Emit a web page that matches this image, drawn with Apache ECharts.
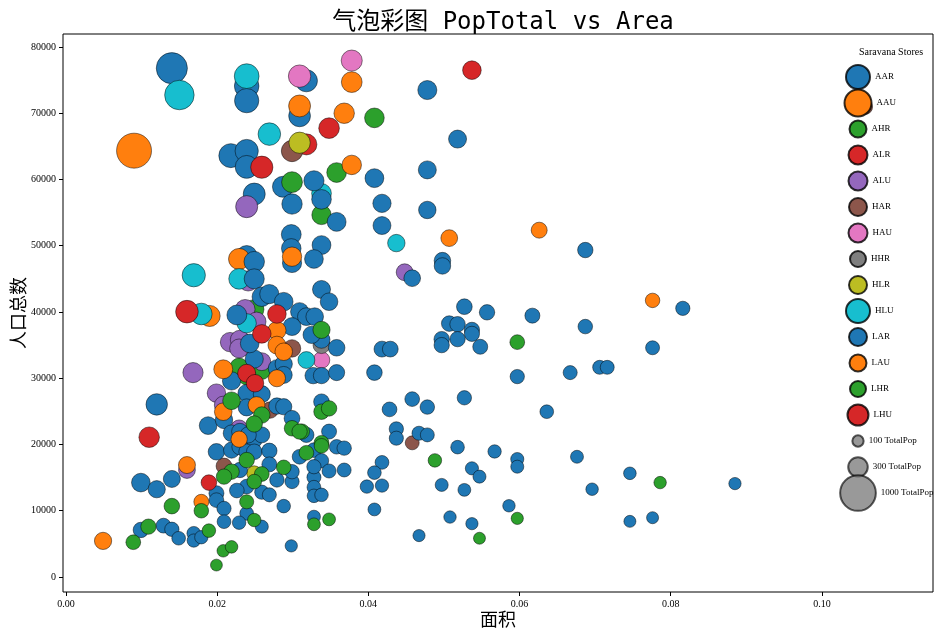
<!DOCTYPE html>
<html>
<head>
<meta charset="utf-8">
<script src="https://cdn.jsdelivr.net/npm/echarts@6/dist/echarts.min.js"></script>
<style>html,body{margin:0;padding:0;background:#fff;}#chart{width:940px;height:637px;}</style>
</head>
<body>
<div id="chart"></div>
<script>
// ---- data (x = 面积, y = 人口总数) ----
const xTicks = [0, 0.02, 0.04, 0.06, 0.08, 0.10];
const yTicks = [0, 10000, 20000, 30000, 40000, 50000, 60000, 70000, 80000];

const AAR = [[0.0140,76800],[0.0239,74100],[0.0239,71900],[0.0318,74900],[0.0309,69600],[0.0218,63600],[0.0239,64300],[0.0239,61900],[0.0287,58900],[0.0249,57800],[0.0239,48450],[0.0120,26050]];
const AAU = [[0.0090,64350],[0.0378,74700],[0.0309,71100],[0.0368,70000],[0.0229,48000],[0.0190,39400]];
const AHR = [[0.0408,69300],[0.0299,59600],[0.0358,61050],[0.0338,54650],[0.0249,40400],[0.0229,31650],[0.0259,31150],[0.0239,30350]];
const ALR = [[0.0537,76500],[0.0348,67750],[0.0318,65300],[0.0259,61850]];
const ALU = [[0.0239,55900],[0.0241,44700],[0.0237,40400],[0.0252,38550],[0.0448,46000],[0.0217,35450],[0.0230,35800],[0.0229,34500],[0.0259,32500],[0.0168,30850],[0.0199,27750],[0.0208,25950],[0.0229,22450],[0.0160,16150]];
const HAR = [[0.1057,70950],[0.0299,64300],[0.0299,34500],[0.0270,25200],[0.0458,20250],[0.0209,16750]];
const HAU = [[0.0309,75600],[0.0378,77950],[0.0338,32750]];
const HHR = [[0.0338,35000]];
const HLR = [[0.0309,65550],[0.0249,15650]];
const HLU = [[0.0150,72750],[0.0239,75600],[0.0269,66850],[0.0338,57900],[0.0229,45000],[0.0169,45550],[0.0179,39700],[0.0239,38300],[0.0437,50400],[0.0318,32750]];
const LAR = [[0.0299,56300],[0.0328,59800],[0.0338,57000],[0.0358,53600],[0.0298,51700],[0.0298,49600],[0.0299,47400],[0.0338,50100],[0.0328,48000],[0.0249,47600],[0.0249,45000],[0.0338,43400],[0.0348,41550],[0.0259,42300],[0.0269,42700],[0.0288,41550],[0.0226,39550],[0.0309,40050],[0.0318,39300],[0.0329,39300],
[0.0478,73500],[0.0518,66100],[0.0478,61450],[0.0408,60200],[0.0418,56400],[0.0478,55400],[0.0418,53050],[0.0498,47750],[0.0498,46950],[0.0458,45100],[0.0687,49350],[0.0816,40550],[0.0527,40800],[0.0557,39950],[0.0617,39450],
[0.0507,38250],[0.0518,38150],[0.0537,37300],[0.0537,36700],[0.0687,37800],[0.0497,35900],[0.0497,35000],[0.0518,35900],[0.0548,34750],[0.0776,34600],[0.0418,34400],[0.0429,34400],[0.0358,34600],[0.0338,35800],[0.0327,30400],[0.0338,30400],[0.0358,30850],[0.0408,30850],[0.0597,30250],[0.0667,30850],[0.0706,31650],[0.0716,31650],
[0.0527,27050],[0.0458,26850],[0.0428,25300],[0.0478,25650],[0.0636,24950],[0.0338,26450],[0.0437,22350],[0.0437,20950],[0.0467,21700],[0.0478,21450],[0.0518,19600],[0.0567,18950],[0.0597,17800],[0.0597,16650],[0.0676,18150],
[0.0348,21950],[0.0318,21450],[0.0328,19150],[0.0358,19650],[0.0368,19450],[0.0338,17550],[0.0348,16000],[0.0368,16150],[0.0328,15050],[0.0328,13550],[0.0328,12250],[0.0338,12400],[0.0328,9100],
[0.0418,17300],[0.0408,15750],[0.0398,13650],[0.0418,13800],[0.0408,10200],[0.0497,13900],[0.0527,13150],[0.0537,16400],[0.0547,15150],[0.0586,10750],[0.0508,9050],[0.0537,8050],[0.0467,6250],[0.0696,13250],[0.0746,15650],[0.0885,14100],[0.0746,8400],[0.0776,8950],
[0.0325,36550],[0.0299,37800],[0.0249,32900],[0.0279,31500],[0.0288,32150],[0.0288,30500],[0.0219,29600],[0.0239,27750],[0.0259,27600],[0.0239,25600],[0.0279,25800],[0.0288,25700],[0.0299,23950],
[0.0188,22850],[0.0209,23700],[0.0219,21700],[0.0230,21950],[0.0249,20700],[0.0259,21450],[0.0199,18900],[0.0219,19150],[0.0230,19650],[0.0239,18900],[0.0249,18900],[0.0269,19050],[0.0230,16150],[0.0269,17000],[0.0279,14650],[0.0299,14400],[0.0299,15900],
[0.0239,13650],[0.0226,13050],[0.0259,12800],[0.0269,12400],[0.0199,12650],[0.0199,11600],[0.0209,10350],[0.0239,9600],[0.0229,8200],[0.0259,7600],[0.0209,8350],[0.0288,10700],[0.0298,4700],
[0.0099,14250],[0.0120,13250],[0.0140,14800],[0.0099,7100],[0.0129,7750],[0.0140,7200],[0.0149,5850],[0.0169,6600],[0.0169,5500],[0.0179,6000],[0.0243,35250],[0.0241,21450],[0.0309,18150],[0.0328,16650]];
const LAU = [[0.0378,62200],[0.0299,48350],[0.0507,51150],[0.0626,52350],[0.0776,41750],[0.0279,37200],[0.0279,35000],[0.0288,34000],[0.0208,31350],[0.0279,30000],[0.0208,24950],[0.0252,25950],[0.0229,20800],[0.0160,16900],[0.0179,11350],[0.0049,5450]];
const LHR = [[0.0597,35450],[0.0338,37300],[0.0338,24950],[0.0348,25450],[0.0312,21950],[0.0338,20250],[0.0338,19800],[0.0318,18750],[0.0328,7950],[0.0348,8700],[0.0488,17600],[0.0597,8850],[0.0547,5850],[0.0786,14250],
[0.0219,26600],[0.0259,24450],[0.0249,23100],[0.0299,22450],[0.0309,21950],[0.0239,17650],[0.0219,15900],[0.0209,15150],[0.0259,15550],[0.0249,14400],[0.0288,16550],[0.0179,10000],[0.0239,11350],[0.0249,8600],[0.0140,10700],[0.0109,7600],[0.0189,7000],[0.0089,5250],[0.0208,3950],[0.0219,4550],[0.0199,1800]];
const LHU = [[0.0160,40050],[0.0279,39700],[0.0259,36700],[0.0239,30750],[0.0250,29250],[0.0110,21100],[0.0189,14250]];

const seriesNames = ['AAR','AAU','AHR','ALR','ALU','HAR','HAU','HHR','HLR','HLU','LAR','LAU','LHR','LHU'];
const seriesData  = [AAR, AAU, AHR, ALR, ALU, HAR, HAU, HHR, HLR, HLU, LAR, LAU, LHR, LHU];
const sizeKeyNames = ['100 TotalPop', '300 TotalPop', '1000 TotalPop'];
const sizeKeyValues = [100, 300, 1000];

// ---- styling ----
const palette = ['#1f77b4','#ff7f0e','#2ca02c','#d62728','#9467bd','#8c564b','#e377c2','#7f7f7f','#bcbd22','#17becf','#1f77b4','#ff7f0e','#2ca02c','#d62728'];
const legendIconSizes = [24,27,17,19,19,18,19,16,18,24,18,17,16,21];
// marker area (pt^2) -> diameter (px)
const areaToDiam = s => Math.sqrt(4 * s / Math.PI);
const bubbleDiam = v => areaToDiam(100 + v[1] / v[0] / 8300);
const edge = { borderColor: 'rgba(0,0,0,0.8)', borderWidth: 0.6 };

const series = seriesNames.map((n, i) => ({
  type: 'scatter', name: n, data: seriesData[i],
  symbolSize: bubbleDiam,
  itemStyle: Object.assign({ color: palette[i], opacity: 1 }, edge),
  emphasis: { disabled: true }
}));
sizeKeyNames.forEach(n => series.push({
  type: 'scatter', name: n, data: [],
  itemStyle: Object.assign({ color: '#808080' }, edge)
}));

const legendAll = seriesNames.concat(sizeKeyNames);
const legendSizes = legendIconSizes.concat(sizeKeyValues.map(areaToDiam));
const legends = legendAll.map((n, i) => {
  const s = legendSizes[i];
  const h = Math.max(s, 11);
  return {
    data: [n], orient: 'vertical', padding: 0, icon: 'circle',
    left: 857 - s / 2, top: 76 + 26 * i - h / 2,
    itemWidth: s, itemHeight: s, selectedMode: false,
    textStyle: { fontFamily: 'Liberation Serif', fontSize: 9, color: '#000' }
  };
});

const chart = echarts.init(document.getElementById('chart'), null, { renderer: 'canvas' });
chart.setOption({
  animation: false,
  backgroundColor: '#fff',
  title: [
    { text: '气泡彩图 PopTotal vs Area', left: 498, top: 6, textAlign: 'center',
      textStyle: { fontFamily: 'DejaVu Sans Mono, Noto Sans CJK SC', fontSize: 24, fontWeight: 'normal', color: '#000' } },
    { text: 'Saravana Stores', left: 886, top: 42, textAlign: 'center',
      textStyle: { fontFamily: 'Liberation Serif', fontSize: 10, fontWeight: 'normal', color: '#000' } }
  ],
  legend: legends,
  grid: { left: 63, right: 7, top: 34, bottom: 45, containLabel: false, outerBoundsMode: 'none',
    show: true, borderColor: '#000', borderWidth: 1, backgroundColor: 'transparent' },
  xAxis: {
    type: 'value', min: -0.0004, max: 0.1147,
    name: '面积', nameLocation: 'middle', nameGap: 18, nameMoveOverlap: false,
    nameTextStyle: { fontFamily: 'Noto Sans CJK SC', fontSize: 18, color: '#000', verticalAlign: 'top' },
    axisLine: { show: false, onZero: false },
    axisTick: { show: true, inside: false, length: 4, customValues: xTicks, lineStyle: { color: '#000' } },
    axisLabel: { customValues: xTicks, margin: 7, formatter: v => v.toFixed(2),
      fontFamily: 'Liberation Serif', fontSize: 10, color: '#000' },
    splitLine: { show: false }
  },
  yAxis: {
    type: 'value', min: -2264, max: 81960,
    name: '人口总数', nameLocation: 'middle', nameGap: 36, nameRotate: 90, nameMoveOverlap: false,
    nameTextStyle: { fontFamily: 'Noto Sans CJK SC', fontSize: 18, color: '#000' },
    axisLine: { show: false, onZero: false },
    axisTick: { show: true, inside: false, length: 4, customValues: yTicks, lineStyle: { color: '#000' } },
    axisLabel: { customValues: yTicks, margin: 7, formatter: v => String(Math.round(v)),
      fontFamily: 'Liberation Serif', fontSize: 10, color: '#000' },
    splitLine: { show: false }
  },
  series: series
});
</script>
</body>
</html>
